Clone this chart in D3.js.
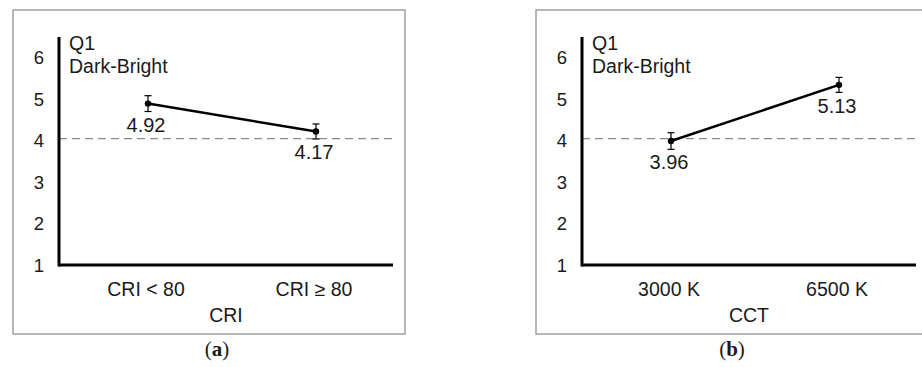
<!DOCTYPE html>
<html>
<head>
<meta charset="utf-8">
<script src="https://cdn.jsdelivr.net/npm/d3@7"></script>
<style>
  body { margin: 0; background: #fff; }
  text { font-family: "Liberation Sans", Arial, sans-serif; fill: #1a1a1a; }
</style>
</head>
<body>
<svg id="chart" width="922" height="367"></svg>
<script>
// tick labels on the y axis
var yTicks = [1, 2, 3, 4, 5, 6];

// panel (a): CRI
var criCategories = ['CRI < 80', 'CRI \u2265 80'];
var criMeans = [4.88, 4.21];
var criErrors = [0.19, 0.18];
var criLabels = ['4.92', '4.17'];

// panel (b): CCT
var cctCategories = ['3000 K', '6500 K'];
var cctMeans = [3.98, 5.33];
var cctErrors = [0.2, 0.18];
var cctLabels = ['3.96', '5.13'];

var svg = d3.select('#chart');

/**
 * Draws one framed panel. axisX is where the y axis sits.
 */
function drawPanel(opts) {
    var ax = opts.axisX;
    var g = svg.append('g');

    var y = d3.scaleLinear().domain([1, 6]).range([265, 57]);
    var x = d3.scalePoint().domain(opts.categories)
        .range([ax + 5, ax + 341]).padding(0.5);

    // frame
    g.append('rect')
        .attr('x', ax - 46).attr('y', 10)
        .attr('width', 392).attr('height', 324)
        .attr('fill', 'none')
        .attr('stroke', '#a0a0a0')
        .attr('stroke-width', 1.5);

    // reference line at 4
    g.append('line')
        .attr('x1', ax).attr('x2', ax + 334)
        .attr('y1', y(4) - 1.5).attr('y2', y(4) - 1.5)
        .attr('stroke', '#8a8a8a')
        .attr('stroke-width', 1.3)
        .attr('stroke-dasharray', '8,5');

    // axes
    g.append('line')
        .attr('x1', ax).attr('x2', ax)
        .attr('y1', 37).attr('y2', y(1) + 1.5)
        .attr('stroke', '#000').attr('stroke-width', 3);
    g.append('line')
        .attr('x1', ax).attr('x2', ax + 334)
        .attr('y1', y(1)).attr('y2', y(1))
        .attr('stroke', '#000').attr('stroke-width', 3);

    g.selectAll('.ytick').data(yTicks).enter().append('text')
        .attr('class', 'ytick')
        .attr('x', ax - 15)
        .attr('y', function(d) { return y(d) + 7; })
        .attr('text-anchor', 'end')
        .style('font-size', '18.5px')
        .text(function(d) { return d; });

    g.selectAll('.xcat').data(opts.categories).enter().append('text')
        .attr('class', 'xcat')
        .attr('x', function(d) { return x(d) - 2; })
        .attr('y', 296)
        .attr('text-anchor', 'middle')
        .style('font-size', '19.5px')
        .text(function(d) { return d; });

    g.append('text')
        .attr('x', ax + 167).attr('y', 322)
        .attr('text-anchor', 'middle')
        .style('font-size', '19.5px')
        .text(opts.title);

    g.append('text')
        .attr('x', ax + 10).attr('y', 50)
        .style('font-size', '19.5px')
        .text('Q1');
    g.append('text')
        .attr('x', ax + 10).attr('y', 73)
        .style('font-size', '19.5px')
        .text('Dark-Bright');

    var pts = opts.categories.map(function(c, i) {
        return { cat: c, mean: opts.means[i], err: opts.errors[i], label: opts.labels[i] };
    });

    // connecting line
    g.append('path')
        .datum(pts)
        .attr('fill', 'none')
        .attr('stroke', '#000')
        .attr('stroke-width', 2.5)
        .attr('d', d3.line()
            .x(function(d) { return x(d.cat); })
            .y(function(d) { return y(d.mean); }));

    // error bars
    var eb = g.selectAll('.err').data(pts).enter().append('g').attr('class', 'err');
    eb.append('line')
        .attr('x1', function(d) { return x(d.cat); })
        .attr('x2', function(d) { return x(d.cat); })
        .attr('y1', function(d) { return y(d.mean + d.err); })
        .attr('y2', function(d) { return y(d.mean - d.err); })
        .attr('stroke', '#000').attr('stroke-width', 1.2);
    [1, -1].forEach(function(s) {
        eb.append('line')
            .attr('x1', function(d) { return x(d.cat) - 3.5; })
            .attr('x2', function(d) { return x(d.cat) + 3.5; })
            .attr('y1', function(d) { return y(d.mean + s * d.err); })
            .attr('y2', function(d) { return y(d.mean + s * d.err); })
            .attr('stroke', '#000').attr('stroke-width', 1.2);
    });

    g.selectAll('.dot').data(pts).enter().append('circle')
        .attr('class', 'dot')
        .attr('cx', function(d) { return x(d.cat); })
        .attr('cy', function(d) { return y(d.mean); })
        .attr('r', 3.2)
        .attr('fill', '#000');

    g.selectAll('.vlab').data(pts).enter().append('text')
        .attr('class', 'vlab')
        .attr('x', function(d) { return x(d.cat) - 2; })
        .attr('y', function(d) { return y(d.mean) + 28; })
        .attr('text-anchor', 'middle')
        .style('font-size', '20px')
        .text(function(d) { return d.label; });

    // caption
    var cap = svg.append('text')
        .attr('x', opts.captionX).attr('y', 356)
        .attr('text-anchor', 'middle')
        .style('font-family', '"Liberation Serif", "Times New Roman", serif')
        .style('font-size', '21px');
    cap.append('tspan').text('(');
    cap.append('tspan').style('font-weight', 'bold').text(opts.caption);
    cap.append('tspan').text(')');
}

drawPanel({
    axisX: 59, categories: criCategories, means: criMeans, errors: criErrors,
    labels: criLabels, title: 'CRI', caption: 'a', captionX: 217
});
drawPanel({
    axisX: 582, categories: cctCategories, means: cctMeans, errors: cctErrors,
    labels: cctLabels, title: 'CCT', caption: 'b', captionX: 732
});
</script>
</body>
</html>
